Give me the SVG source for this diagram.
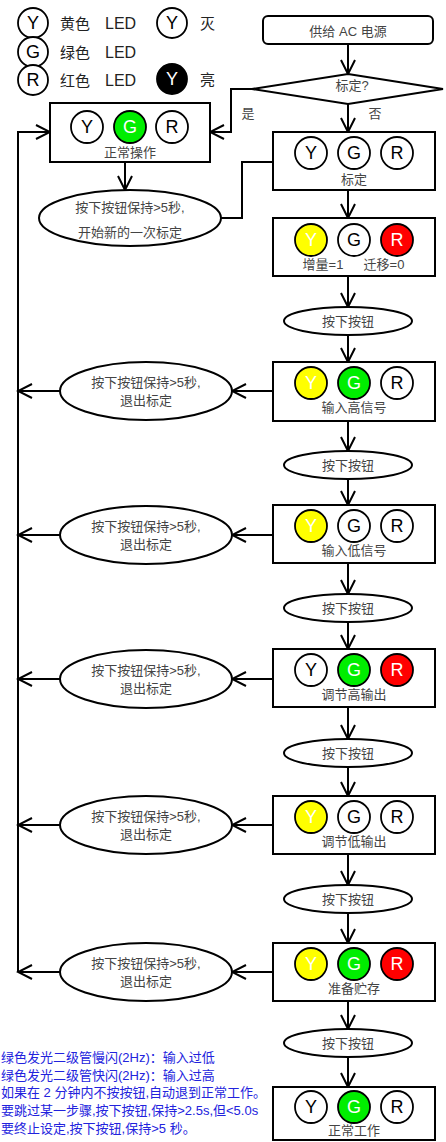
<svg xmlns="http://www.w3.org/2000/svg" width="446" height="1142" viewBox="0 0 446 1142">
<style>
.bx{fill:#fff;stroke:#000;stroke-width:2}
.el{fill:#fff;stroke:#000;stroke-width:2}
.ln{fill:none;stroke:#000;stroke-width:2}
.c{stroke:#000;stroke-width:1.8}
.w{fill:#fff}.y{fill:#ffff00}.g{fill:#00ee00}.r{fill:#ff0000}.k{fill:#000}
.t{font-family:"Liberation Sans","Noto Sans CJK SC",sans-serif;font-size:13px;fill:#444;text-anchor:middle;dominant-baseline:central}
.L{font-family:"Liberation Sans",sans-serif;font-size:18px;text-anchor:middle;dominant-baseline:central}
.lb{fill:#000}.lw{fill:#fff}
.lg{font-family:"Liberation Sans","Noto Sans CJK SC",sans-serif;font-size:15px;fill:#222;dominant-baseline:central}
.led{font-size:16px}
.bl{font-family:"Liberation Sans","Noto Sans CJK SC",sans-serif;font-size:13px;fill:#2222dd}
</style>
<defs>
<marker id="ah" viewBox="-16 -9 18 18" markerWidth="18" markerHeight="18" refX="0" refY="0" orient="auto" markerUnits="userSpaceOnUse">
<path d="M-14,-7 L0,0 L-14,7" fill="none" stroke="#000" stroke-width="2"/>
</marker>
</defs>

<g id="legend">
<circle class="c w" cx="33" cy="23" r="15"/><text class="L lb" x="33" y="23">Y</text>
<circle class="c w" cx="33" cy="52" r="15"/><text class="L lb" x="33" y="52">G</text>
<circle class="c w" cx="33" cy="80" r="15"/><text class="L lb" x="33" y="80">R</text>
<text class="lg" x="60" y="23">黄色<tspan class="led" x="105">LED</tspan></text>
<text class="lg" x="60" y="52">绿色<tspan class="led" x="105">LED</tspan></text>
<text class="lg" x="60" y="80">红色<tspan class="led" x="105">LED</tspan></text>
<circle class="c w" cx="172" cy="23" r="15"/><text class="L lb" x="172" y="23">Y</text>
<text class="lg" x="200" y="23">灭</text>
<circle class="c k" cx="172" cy="79" r="15"/><text class="L lw" x="172" y="79">Y</text>
<text class="lg" x="200" y="79">亮</text>
</g>

<g id="connectors">
<path class="ln" d="M348,44 V74" marker-end="url(#ah)"/>
<path class="ln" d="M348,104 V132" marker-end="url(#ah)"/>
<path class="ln" d="M252,89 H231 V132 H210" marker-end="url(#ah)"/>
<path class="ln" d="M125,162 V190" marker-end="url(#ah)"/>
<path class="ln" d="M221,218 H242 V162 H273"/>
<path class="ln" d="M348,190 V218" marker-end="url(#ah)"/>
<path class="ln" d="M348,276 V307" marker-end="url(#ah)"/>
<path class="ln" d="M348,335 V362" marker-end="url(#ah)"/>
<path class="ln" d="M348,421 V451" marker-end="url(#ah)"/>
<path class="ln" d="M348,479 V505" marker-end="url(#ah)"/>
<path class="ln" d="M348,563 V594" marker-end="url(#ah)"/>
<path class="ln" d="M348,622 V649" marker-end="url(#ah)"/>
<path class="ln" d="M348,707 V739" marker-end="url(#ah)"/>
<path class="ln" d="M348,767 V796" marker-end="url(#ah)"/>
<path class="ln" d="M348,854 V885" marker-end="url(#ah)"/>
<path class="ln" d="M348,913 V943" marker-end="url(#ah)"/>
<path class="ln" d="M348,1001 V1029" marker-end="url(#ah)"/>
<path class="ln" d="M348,1057 V1087" marker-end="url(#ah)"/>
<path class="ln" d="M18,972 V132 H50" marker-end="url(#ah)"/>
<path class="ln" d="M273,391 H232" marker-end="url(#ah)"/>
<path class="ln" d="M60,391 H18" marker-end="url(#ah)"/>
<path class="ln" d="M273,535 H232" marker-end="url(#ah)"/>
<path class="ln" d="M60,535 H18" marker-end="url(#ah)"/>
<path class="ln" d="M273,679 H232" marker-end="url(#ah)"/>
<path class="ln" d="M60,679 H18" marker-end="url(#ah)"/>
<path class="ln" d="M273,825 H232" marker-end="url(#ah)"/>
<path class="ln" d="M60,825 H18" marker-end="url(#ah)"/>
<path class="ln" d="M273,972 H232" marker-end="url(#ah)"/>
<path class="ln" d="M60,972 H18" marker-end="url(#ah)"/>
</g>

<g id="power">
<rect class="bx" x="263" y="16" width="170" height="28" rx="5"/>
<text class="t" x="348" y="31" fill="#333">供给 AC 电源</text>
</g>
<g id="decision">
<polygon class="bx" points="348,74 443,89 348,104 252,89"/>
<text class="t" x="352" y="85">标定?</text>
<text class="t" x="248" y="113">是</text>
<text class="t" x="375" y="113">否</text>
</g>

<g id="normal-op">
<rect class="bx" x="50" y="103" width="160" height="59"/>
<circle class="c w" cx="87" cy="127" r="16"/><text class="L lb" x="87" y="127">Y</text>
<circle class="c g" cx="130" cy="127" r="16"/><text class="L lw" x="130" y="127">G</text>
<circle class="c w" cx="172" cy="127" r="16"/><text class="L lb" x="172" y="127">R</text>
<text class="t" x="130" y="152">正常操作</text>
</g>
<g id="start-cal">
<ellipse class="el" cx="130" cy="218" rx="91" ry="28"/>
<text class="t" x="130" y="207">按下按钮保持&gt;5秒,</text>
<text class="t" x="130" y="232">开始新的一次标定</text>
</g>

<g id="cal">
<rect class="bx" x="273" y="132" width="162" height="58"/>
<circle class="c w" cx="311" cy="153" r="16"/><text class="L lb" x="311" y="153">Y</text>
<circle class="c w" cx="354" cy="153" r="16"/><text class="L lb" x="354" y="153">G</text>
<circle class="c w" cx="397" cy="153" r="16"/><text class="L lb" x="397" y="153">R</text>
<text class="t" x="354" y="179">标定</text>
</g>
<g id="gain">
<rect class="bx" x="273" y="218" width="162" height="58"/>
<circle class="c y" cx="311" cy="240" r="16"/><text class="L lw" x="311" y="240">Y</text>
<circle class="c w" cx="354" cy="240" r="16"/><text class="L lb" x="354" y="240">G</text>
<circle class="c r" cx="397" cy="240" r="16"/><text class="L lw" x="397" y="240">R</text>
<text class="t" x="323" y="264">增量=1</text>
<text class="t" x="384" y="264">迁移=0</text>
</g>
<g id="press1"><ellipse class="el" cx="348" cy="321" rx="64" ry="14"/><text class="t" x="348" y="321">按下按钮</text></g>

<g id="high-in">
<rect class="bx" x="273" y="362" width="162" height="59"/>
<circle class="c y" cx="311" cy="383" r="16"/><text class="L lw" x="311" y="383">Y</text>
<circle class="c g" cx="354" cy="383" r="16"/><text class="L lw" x="354" y="383">G</text>
<circle class="c w" cx="397" cy="383" r="16"/><text class="L lb" x="397" y="383">R</text>
<text class="t" x="354" y="407">输入高信号</text>
</g>
<g id="exit1"><ellipse class="el" cx="146" cy="391" rx="86" ry="29"/><text class="t" x="146" y="382">按下按钮保持&gt;5秒,</text><text class="t" x="146" y="400">退出标定</text></g>
<g id="press2"><ellipse class="el" cx="348" cy="465" rx="64" ry="14"/><text class="t" x="348" y="465">按下按钮</text></g>

<g id="low-in">
<rect class="bx" x="273" y="505" width="162" height="58"/>
<circle class="c y" cx="311" cy="526" r="16"/><text class="L lw" x="311" y="526">Y</text>
<circle class="c w" cx="354" cy="526" r="16"/><text class="L lb" x="354" y="526">G</text>
<circle class="c w" cx="397" cy="526" r="16"/><text class="L lb" x="397" y="526">R</text>
<text class="t" x="354" y="550">输入低信号</text>
</g>
<g id="exit2"><ellipse class="el" cx="146" cy="535" rx="86" ry="29"/><text class="t" x="146" y="526">按下按钮保持&gt;5秒,</text><text class="t" x="146" y="544">退出标定</text></g>
<g id="press3"><ellipse class="el" cx="348" cy="608" rx="64" ry="14"/><text class="t" x="348" y="608">按下按钮</text></g>

<g id="high-out">
<rect class="bx" x="273" y="649" width="162" height="58"/>
<circle class="c w" cx="311" cy="670" r="16"/><text class="L lb" x="311" y="670">Y</text>
<circle class="c g" cx="354" cy="670" r="16"/><text class="L lw" x="354" y="670">G</text>
<circle class="c r" cx="397" cy="670" r="16"/><text class="L lw" x="397" y="670">R</text>
<text class="t" x="354" y="694">调节高输出</text>
</g>
<g id="exit3"><ellipse class="el" cx="146" cy="679" rx="86" ry="29"/><text class="t" x="146" y="670">按下按钮保持&gt;5秒,</text><text class="t" x="146" y="688">退出标定</text></g>
<g id="press4"><ellipse class="el" cx="348" cy="753" rx="64" ry="14"/><text class="t" x="348" y="753">按下按钮</text></g>

<g id="low-out">
<rect class="bx" x="273" y="796" width="162" height="58"/>
<circle class="c y" cx="311" cy="817" r="16"/><text class="L lw" x="311" y="817">Y</text>
<circle class="c w" cx="354" cy="817" r="16"/><text class="L lb" x="354" y="817">G</text>
<circle class="c w" cx="397" cy="817" r="16"/><text class="L lb" x="397" y="817">R</text>
<text class="t" x="354" y="841">调节低输出</text>
</g>
<g id="exit4"><ellipse class="el" cx="146" cy="825" rx="86" ry="29"/><text class="t" x="146" y="816">按下按钮保持&gt;5秒,</text><text class="t" x="146" y="834">退出标定</text></g>
<g id="press5"><ellipse class="el" cx="348" cy="899" rx="64" ry="14"/><text class="t" x="348" y="899">按下按钮</text></g>

<g id="store">
<rect class="bx" x="273" y="943" width="162" height="58"/>
<circle class="c y" cx="311" cy="964" r="16"/><text class="L lw" x="311" y="964">Y</text>
<circle class="c g" cx="354" cy="964" r="16"/><text class="L lw" x="354" y="964">G</text>
<circle class="c r" cx="397" cy="964" r="16"/><text class="L lw" x="397" y="964">R</text>
<text class="t" x="354" y="988">准备贮存</text>
</g>
<g id="exit5"><ellipse class="el" cx="146" cy="972" rx="86" ry="29"/><text class="t" x="146" y="963">按下按钮保持&gt;5秒,</text><text class="t" x="146" y="981">退出标定</text></g>
<g id="press6"><ellipse class="el" cx="348" cy="1043" rx="64" ry="14"/><text class="t" x="348" y="1043">按下按钮</text></g>

<g id="normal-work">
<rect class="bx" x="273" y="1087" width="162" height="53"/>
<circle class="c w" cx="311" cy="1107" r="16"/><text class="L lb" x="311" y="1107">Y</text>
<circle class="c g" cx="354" cy="1107" r="16"/><text class="L lw" x="354" y="1107">G</text>
<circle class="c w" cx="397" cy="1107" r="16"/><text class="L lb" x="397" y="1107">R</text>
<text class="t" x="354" y="1130">正常工作</text>
</g>

<g id="notes">
<text class="bl" x="1" y="1062">绿色发光二级管慢闪(2Hz)：输入过低</text>
<text class="bl" x="1" y="1080">绿色发光二级管快闪(2Hz)：输入过高</text>
<text class="bl" x="1" y="1097">如果在 2 分钟内不按按钮,自动退到正常工作。</text>
<text class="bl" x="1" y="1115">要跳过某一步骤,按下按钮,保持&gt;2.5s,但&lt;5.0s</text>
<text class="bl" x="1" y="1133">要终止设定,按下按钮,保持&gt;5 秒。</text>
</g>
</svg>
